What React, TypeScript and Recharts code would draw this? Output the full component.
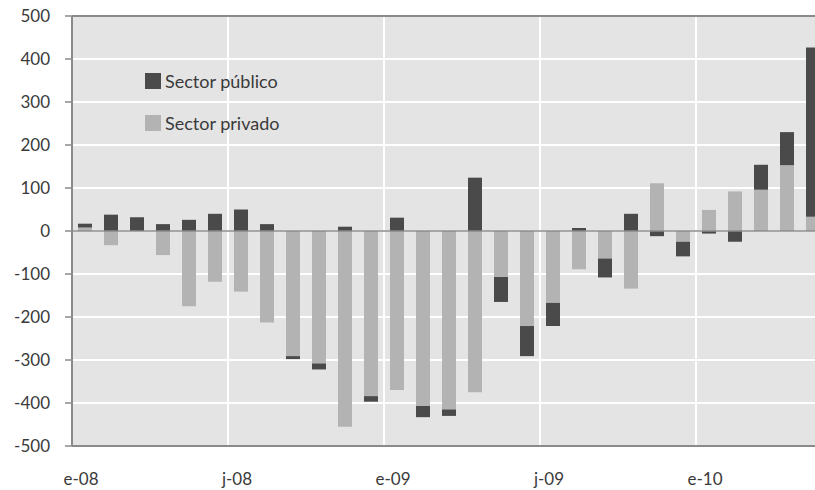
import { Bar, BarChart, CartesianGrid, Legend, ReferenceLine, XAxis, YAxis } from "recharts"

// Meses de enero 2008 a mayo 2010
const meses = [
  "ene-08", "feb-08", "mar-08", "abr-08", "may-08", "jun-08", "jul-08", "ago-08", "sep-08", "oct-08", "nov-08", "dic-08",
  "ene-09", "feb-09", "mar-09", "abr-09", "may-09", "jun-09", "jul-09", "ago-09", "sep-09", "oct-09", "nov-09", "dic-09",
  "ene-10", "feb-10", "mar-10", "abr-10", "may-10",
]

const privado = [
  8, -33, 0, -56, -175, -118, -141, -213, -291, -308, -455, -384,
  -370, -407, -415, -375, -107, -221, -167, -89, -64, -134, 111, -25,
  49, 92, 96, 153, 33,
]

const publico = [
  9, 38, 32, 16, 26, 40, 50, 16, -7, -14, 10, -13,
  31, -26, -15, 124, -58, -70, -54, 7, -44, 40, -12, -34,
  -6, -25, 58, 77, 394,
]

const xTicks = [0, 6, 12, 18, 24]
const xTickLabels = ["e-08", "j-08", "e-09", "j-09", "e-10"]
const yTicks = [-500, -400, -300, -200, -100, 0, 100, 200, 300, 400, 500]

const series = [
  { key: "publico", name: "Sector público", color: "#4a4a4a" },
  { key: "privado", name: "Sector privado", color: "#b3b3b3" },
]

// posición numérica en el centro de cada mes para que la rejilla caiga entre meses
const data = meses.map((mes, i) => ({ mes, pos: i + 0.5, privado: privado[i], publico: publico[i] }))

const FONT = "Lato, 'Noto Sans', sans-serif"
const TEXT = "#3a3a3a"
const AXIS = "#8a8a8a"

function XTick({ x, payload }: any) {
  const label = xTickLabels[xTicks.indexOf(payload.value)]
  return (
    <text x={x + 9} y={485} textAnchor="middle" fill={TEXT} fontSize={17} fontFamily={FONT}>
      {label}
    </text>
  )
}

function Leyenda() {
  return (
    <div style={{ fontFamily: FONT, fontSize: 18, color: TEXT }}>
      {series.map((s) => (
        <div key={s.key} style={{ display: "flex", alignItems: "center", height: 16, marginBottom: 26, lineHeight: "16px" }}>
          <span style={{ width: 16, height: 16, background: s.color, display: "inline-block" }} />
          <span style={{ marginLeft: 4, whiteSpace: "nowrap" }}>{s.name}</span>
        </div>
      ))}
    </div>
  )
}

export default function App() {
  return (
    <div style={{ position: "fixed", left: 0, top: 0, width: 815, height: 490, overflow: "hidden", background: "#fff" }}>
      <BarChart
        width={830}
        height={490}
        data={data}
        stackOffset="sign"
        margin={{ top: 16, right: 4, bottom: 14, left: 0 }}
      >
        <CartesianGrid fill="#e4e4e4" stroke="#ffffff" strokeWidth={2} />
        <XAxis
          type="number"
          dataKey="pos"
          domain={[0, meses.length]}
          ticks={xTicks}
          height={30}
          tickLine={false}
          axisLine={{ stroke: AXIS, strokeWidth: 2 }}
          tick={<XTick />}
        />
        <YAxis
          type="number"
          domain={[-500, 500]}
          ticks={yTicks}
          width={72}
          tickSize={7}
          tickMargin={15}
          axisLine={{ stroke: AXIS, strokeWidth: 2 }}
          tickLine={{ stroke: AXIS, strokeWidth: 1.5 }}
          tick={{ fill: TEXT, fontSize: 17, fontFamily: FONT }}
        />
        <Legend
          layout="vertical"
          align="center"
          verticalAlign="middle"
          wrapperStyle={{ top: 73, left: 145, width: "auto" }}
          content={() => <Leyenda />}
        />
        <Bar dataKey="privado" stackId="s" fill="#b3b3b3" barSize={14} isAnimationActive={false} />
        <Bar dataKey="publico" stackId="s" fill="#4a4a4a" barSize={14} isAnimationActive={false} />
        <ReferenceLine y={0} stroke={AXIS} strokeWidth={1.5} />
        <ReferenceLine y={500} stroke={AXIS} strokeWidth={2} />
      </BarChart>
    </div>
  )
}
